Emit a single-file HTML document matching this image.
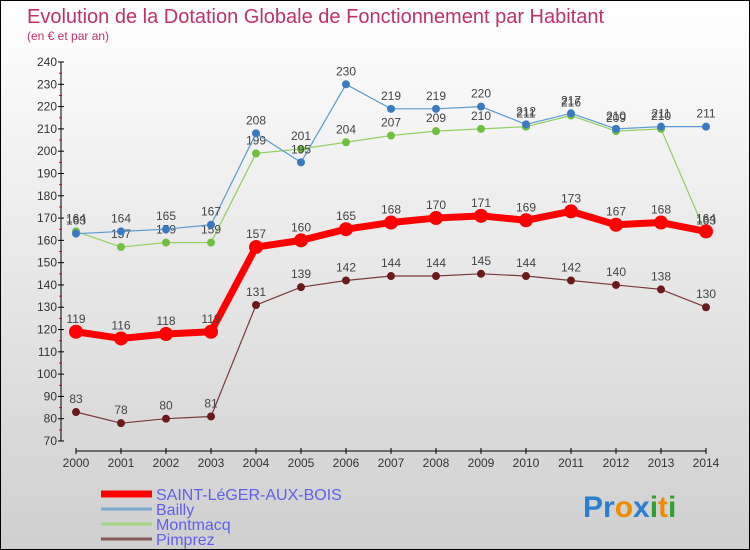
<!DOCTYPE html>
<html><head><meta charset="utf-8"><style>
body{margin:0}
#c{width:750px;height:550px;position:relative;box-sizing:border-box;border:1px solid #000;background:linear-gradient(#fff,#cfcfcf);font-family:"Liberation Sans",sans-serif;overflow:hidden}
</style></head><body>
<div id="c">
<svg id="s" width="748" height="548" style="position:absolute;left:0;top:0">
<text x="26" y="22" font-size="20" fill="#c0306a">Evolution de la Dotation Globale de Fonctionnement par Habitant</text>
<text x="26" y="39" font-size="12" fill="#c0306a">(en € et par an)</text>
<g id="axes"></g><g id="series"></g><g id="legend"></g>
<text x="582" y="516" font-size="30" font-weight="bold"><tspan fill="#2a7fd0">Pr</tspan><tspan fill="#f08a00">o</tspan><tspan fill="#2a7fd0">x</tspan><tspan fill="#30a030">i</tspan><tspan fill="#f08a00">t</tspan><tspan fill="#30a030">i</tspan></text>
</svg></div>
<script>
const years=[2000,2001,2002,2003,2004,2005,2006,2007,2008,2009,2010,2011,2012,2013,2014];
const yTicks=[70,80,90,100,110,120,130,140,150,160,170,180,190,200,210,220,230,240];
const saint=[119,116,118,119,157,160,165,168,170,171,169,173,167,168,164];
const bailly=[163,164,165,167,208,195,230,219,219,220,212,217,210,211,211];
const montmacq=[164,157,159,159,199,201,204,207,209,210,211,216,209,210,163];
const pimprez=[83,78,80,81,131,139,142,144,144,145,144,142,140,138,130];
const NS="http://www.w3.org/2000/svg";
const xS=i=>75+i*45, yS=v=>440-(v-70)*(379/170);
function mk(t,a,p){const e=document.createElementNS(NS,t);for(const k in a)e.setAttribute(k,a[k]);p.appendChild(e);return e;}
const ax=document.getElementById('axes');
let l=mk('line',{x1:60,y1:61,x2:60,y2:440,stroke:'#000','stroke-width':1},ax);

l=mk('line',{x1:75,y1:450,x2:705,y2:450,stroke:'#000','stroke-width':1},ax);

yTicks.forEach(v=>{const y=yS(v);
 mk('line',{x1:57,x2:63,y1:y,y2:y,stroke:'#000'},ax);
 if(v<240)mk('line',{x1:58,x2:61,y1:y-11.1,y2:y-11.1,stroke:'#e00'},ax);
 const t=mk('text',{x:56,y:y+4,'font-size':12,fill:'#333','text-anchor':'end'},ax);t.textContent=v;
 });
years.forEach((yr,i)=>{const x=xS(i);
 mk('line',{x1:x,x2:x,y1:447,y2:453,stroke:'#000'},ax);
 const t=mk('text',{x:x,y:466,'font-size':12,fill:'#333','text-anchor':'middle'},ax);t.textContent=yr;
 });
const ser=document.getElementById('series');
function draw(vals,col,w,r,name,dotCol){
 const g=mk('g',{},ser);
 const p=mk('polyline',{points:vals.map((v,i)=>xS(i)+','+yS(v)).join(' '),fill:'none',stroke:col,'stroke-width':w,'stroke-linejoin':'round'},g);
 
 vals.forEach((v,i)=>{const c=mk('circle',{cx:xS(i),cy:yS(v),r:r,fill:dotCol},g);
  
  const t=mk('text',{x:xS(i),y:yS(v)-9,'font-size':12,fill:'#444','text-anchor':'middle'},g);t.textContent=v;
  });
}
draw(pimprez,'#7a3a3a',1.2,4,'pimprez','#6a1a1a');
draw(montmacq,'#90d060',1.2,4,'montmacq','#70c040');
draw(bailly,'#5a9ad0',1.2,4,'bailly','#3a7ac0');
draw(saint,'#ff0000',7,7,'saint-leger','#ff0000');
const lg=document.getElementById('legend');
[['SAINT-LéGER-AUX-BOIS','#ff0000',7,493],['Bailly','#7aaad0',3,508],['Montmacq','#a0d880',3,523],['Pimprez','#8a5a5a',3,538]].forEach(([n,c,w,y])=>{
 const g=mk('g',{},lg);
 mk('line',{x1:100,x2:151,y1:y,y2:y,stroke:c,'stroke-width':w},g);
 const t=mk('text',{x:155,y:y+6,'font-size':16,fill:'#6060f0'},g);t.textContent=n;});
</script></body></html>
